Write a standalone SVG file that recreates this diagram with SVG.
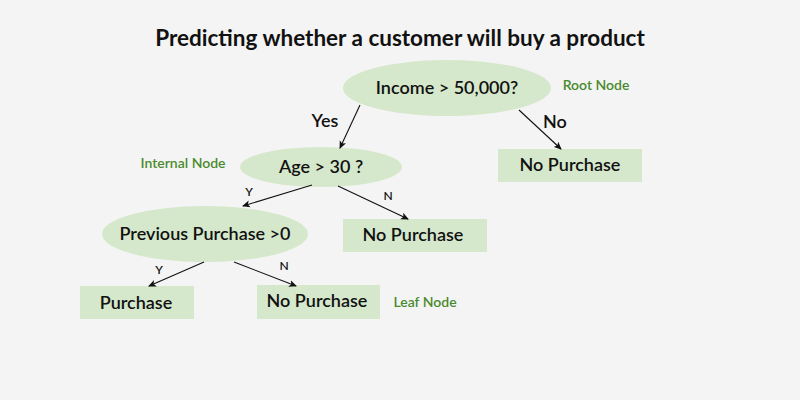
<svg xmlns="http://www.w3.org/2000/svg" width="800" height="400" viewBox="0 0 800 400">
<defs>
<marker id="ah" markerWidth="8" markerHeight="8" refX="7" refY="4" orient="auto" markerUnits="userSpaceOnUse"><path d="M0,0.5 L8,4 L0,7.5 L2,4 Z" fill="#111"/></marker>
<style>
.n{fill:#d5e8cb}
.t{font-family:Lato,"Noto Sans",sans-serif;font-size:18px;fill:#111;text-anchor:middle;font-weight:600}
.s{font-family:Lato,"Noto Sans",sans-serif;font-size:12px;fill:#111;text-anchor:middle;font-weight:600}
.g{font-family:Lato,"Noto Sans",sans-serif;font-size:14px;fill:#4a8a2e;text-anchor:middle;font-weight:600}
.e{stroke:#111;stroke-width:1.1;fill:none;marker-end:url(#ah)}
</style>
</defs>
<rect width="800" height="400" fill="#f4f4f4"/>
<text x="400" y="46" font-family="Lato,'Noto Sans',sans-serif" font-size="22.5" font-weight="bold" text-anchor="middle" fill="#111">Predicting whether a customer will buy a product</text>
<g id="root"><ellipse class="n" cx="447" cy="88" rx="104" ry="28"/><text class="t" x="447" y="94">Income &gt; 50,000?</text></g>
<g id="age"><ellipse class="n" cx="321" cy="167" rx="81" ry="20"/><text class="t" x="321" y="173">Age &gt; 30 ?</text></g>
<g id="prev"><ellipse class="n" cx="205" cy="234" rx="103" ry="28"/><text class="t" x="205" y="240">Previous Purchase &gt;0</text></g>
<g id="np1"><rect class="n" x="498" y="149" width="144" height="33"/><text class="t" x="570" y="171">No Purchase</text></g>
<g id="np2"><rect class="n" x="343" y="219" width="144" height="33"/><text class="t" x="413" y="241">No Purchase</text></g>
<g id="p"><rect class="n" x="80" y="286" width="114" height="33"/><text class="t" x="136" y="309">Purchase</text></g>
<g id="np3"><rect class="n" x="257" y="285" width="123" height="34"/><text class="t" x="317" y="307">No Purchase</text></g>
<g id="labels">
<text class="g" x="596" y="90">Root Node</text>
<text class="g" x="183" y="168">Internal Node</text>
<text class="g" x="425" y="307">Leaf Node</text>
</g>
<g id="connectors">
<path class="e" d="M360,105 L340,148"/>
<path class="e" d="M519,110 L561,149"/>
<path class="e" d="M312,185 L243,206"/>
<path class="e" d="M338,186 L408,219"/>
<path class="e" d="M204,262 L149,286"/>
<path class="e" d="M234,262 L296,286"/>
<text class="t" x="325" y="127">Yes</text>
<text class="t" x="555" y="128">No</text>
<text class="s" x="249" y="196">Y</text>
<text class="s" x="388" y="200">N</text>
<text class="s" x="159" y="274">Y</text>
<text class="s" x="284" y="270">N</text>
</g>
</svg>
